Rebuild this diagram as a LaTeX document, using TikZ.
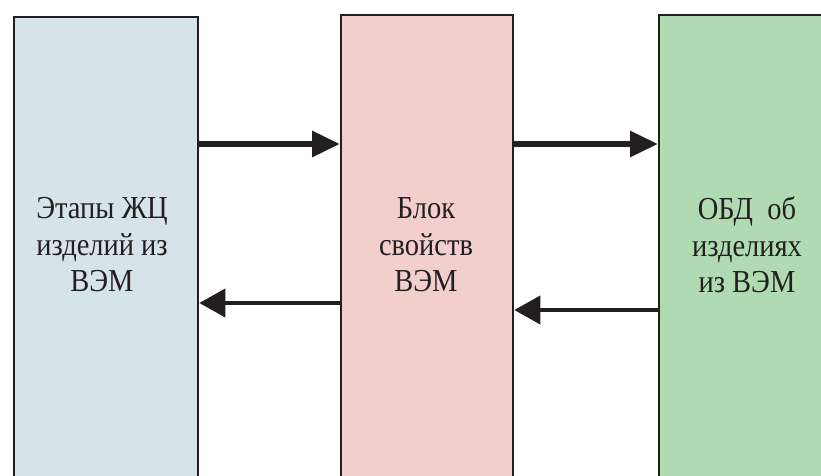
\documentclass[tikz,border=0pt]{standalone}
\usepackage{fontspec}
\setmainfont{Liberation Serif}
\usetikzlibrary{arrows.meta,calc}
\definecolor{blokBlue}{HTML}{D6E4EA}
\definecolor{blokPink}{HTML}{F2CFCD}
\definecolor{blokGreen}{HTML}{B0DBB2}
\definecolor{blokLine}{HTML}{231F20}
\tikzset{
	blok/.style={draw=blokLine, line width=2.3pt, anchor=north west, inner sep=0pt},
	blokText/.style={align=center, font=\fontsize{32}{36.5}\selectfont, text=blokLine, xscale=0.89, transform shape},
	fatArrow/.style={line width=6pt, draw=blokLine, -{Triangle[length=28pt,width=25pt]}},
	slimArrow/.style={line width=4pt, draw=blokLine, -{Triangle[length=26pt,width=28pt]}}
}

\begin{document}
\begin{tikzpicture}[x=1pt,y=1pt]
			%%%%% START %%%%%
			\useasboundingbox (0,-476) rectangle (821,0);
			\begin{scope}
			\clip (0,-476) rectangle (821,0);
			
			\node[blok, fill=blokBlue, minimum width=184, minimum height=500] (etapy) at (13,-16) {};
			\node[blok, fill=blokPink, minimum width=172, minimum height=500] (svojstva) at (340,-14) {};
			\node[blok, fill=blokGreen, minimum width=178, minimum height=500] (obd) at (658,-14) {};
			
			\node[blokText] (etapyText) at (102,-245) {Этапы ЖЦ\\изделий из\\ВЭМ};
			\node[blokText] (svojstvaText) at (426,-245) {Блок\\свойств\\ВЭМ};
			\node[blokText] (obdText) at (747,-245) {ОБД\ \ об\\изделиях\\из ВЭМ};
			
			\draw[fatArrow] (etapy.east |- 0,-144) -- (svojstva.west |- 0,-144);
			\draw[fatArrow] (svojstva.east |- 0,-144) -- (obd.west |- 0,-144);
			
			\draw[slimArrow] (svojstva.west |- 0,-303) -- (etapy.east |- 0,-303);
			\draw[slimArrow] (obd.west |- 0,-310) -- (svojstva.east |- 0,-310);
			\end{scope}
			%%%%% END %%%%%
\end{tikzpicture}
\end{document}
